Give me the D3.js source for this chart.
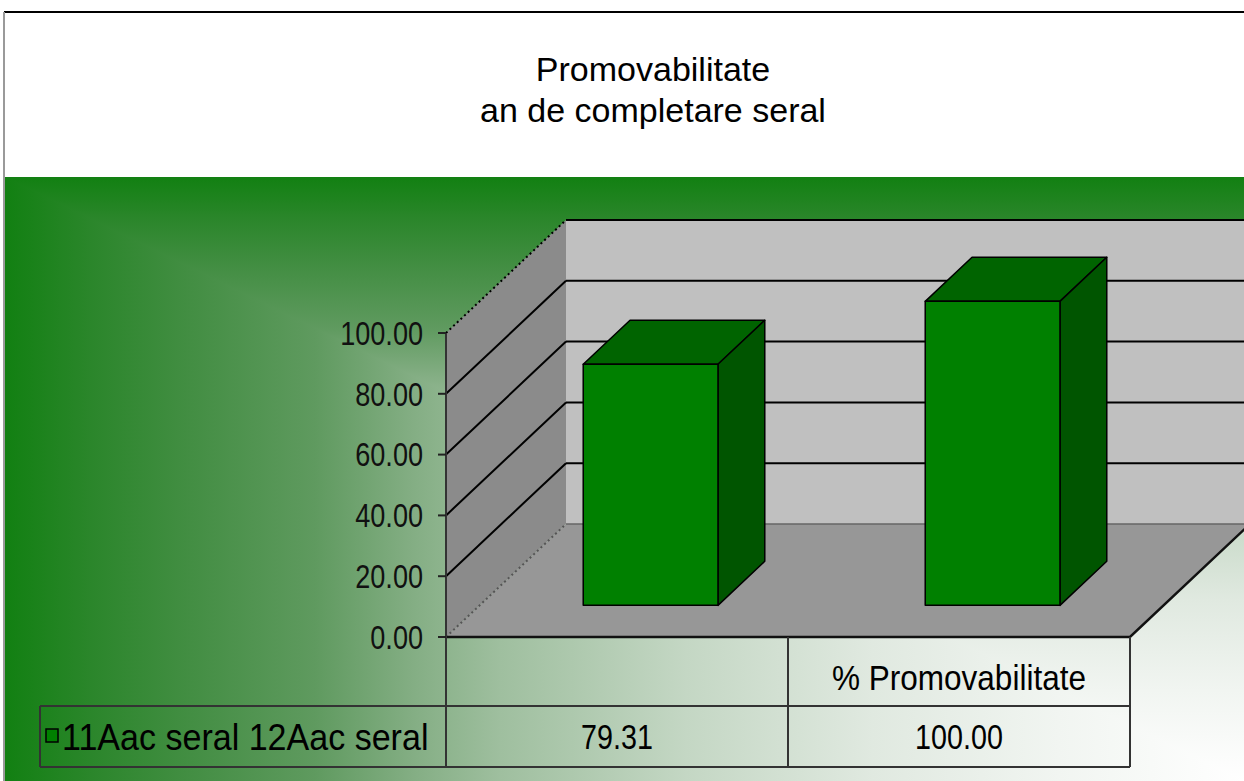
<!DOCTYPE html>
<html>
<head>
<meta charset="utf-8">
<script src="https://cdn.jsdelivr.net/npm/d3@7"></script>
<style>
  html, body { margin: 0; padding: 0; background: #fff; }
  svg { display: block; font-family: "Liberation Sans", Arial, sans-serif; }
</style>
</head>
<body>
<svg id="chart" width="1244" height="781"></svg>
<script>
'use strict';

// chart data
const titleLines = ['Promovabilitate', 'an de completare seral'];
const categories = ['', '% Promovabilitate'];
const seriesName = '11Aac seral 12Aac seral';
const values = [79.31, 100.00];
const yTicks = [0, 20, 40, 60, 80, 100];

const W = 1244, H = 781;
const svg = d3.select('#chart');

// front plane of the 3D box, and the depth offset of its back
const plotL = 446, plotR = 1130, plotB = 637, plotT = 333;
const DX = 120, DY = -113;
const bgTop = 177;
const rowMid = 706, rowEnd = 767, legendLeft = 40;

const x = d3.scaleBand().domain(categories).range([plotL, plotR]);
const y = d3.scaleLinear().domain([0, 100]).range([plotB, plotT]);
const fmt = d3.format('.2f');
const line = d3.line();

// squeeze text horizontally (the source uses a narrow face)
function condense(sel, k) {
    sel.each(function(){
        const w = this.getComputedTextLength();
        if(w > 0) d3.select(this).attr('textLength', w * k).attr('lengthAdjust', 'spacingAndGlyphs');
    });
}

// frame + title area
svg.append('rect').attr('width', W).attr('height', H).attr('fill', '#fff');

// corner gradient: white in the bottom-right, green towards top and left
const stops = [
    [0, '#ffffff'], [0.15, '#f1f5f1'], [0.3, '#e0e9e0'], [0.45, '#c4d7c4'],
    [0.6, '#9fbf9f'], [0.67, '#84ae84'], [0.75, '#5f9a5f'], [0.85, '#438e43'],
    [0.93, '#2b862b'], [1, '#128012']
];
const defs = svg.append('defs');
function gradient(id, x1, y1, x2, y2){
    const g = defs.append('linearGradient')
        .attr('id', id)
        .attr('gradientUnits', 'userSpaceOnUse')
        .attr('x1', x1).attr('y1', y1).attr('x2', x2).attr('y2', y2);
    g.selectAll('stop').data(stops).join('stop')
        .attr('offset', d => d[0])
        .attr('stop-color', d => d[1]);
}
gradient('gradH', W, 0, 5, 0);
gradient('gradV', 0, H, 0, bgTop);

svg.append('rect')
    .attr('x', 5).attr('y', bgTop).attr('width', W - 5).attr('height', H - bgTop)
    .attr('fill', 'url(#gradH)');
svg.append('path')
    .attr('d', line([[5, bgTop], [W, bgTop], [W, H]]) + 'Z')
    .attr('fill', 'url(#gradV)');

svg.append('line').attr('x1', 4).attr('x2', W).attr('y1', 12).attr('y2', 12)
    .attr('stroke', '#000').attr('stroke-width', 2);
svg.append('line').attr('x1', 4).attr('x2', 4).attr('y1', 12).attr('y2', H)
    .attr('stroke', '#9a9a9a').attr('stroke-width', 2);

// title
svg.append('g').selectAll('text').data(titleLines).join('text')
    .attr('x', 653)
    .attr('y', (d, i) => 81 + i * 41)
    .attr('text-anchor', 'middle')
    .attr('font-size', 34)
    .attr('fill', '#000')
    .text(d => d);

// walls and floor
const walls = svg.append('g');
walls.append('path')
    .attr('d', line([[plotL + DX, plotT + DY], [plotR + DX, plotT + DY], [plotR + DX, plotB + DY], [plotL + DX, plotB + DY]]) + 'Z')
    .attr('fill', '#c0c0c0');
walls.append('path')
    .attr('d', line([[plotL, plotT], [plotL + DX, plotT + DY], [plotL + DX, plotB + DY], [plotL, plotB]]) + 'Z')
    .attr('fill', '#8b8b8b');
walls.append('path')
    .attr('d', line([[plotL, plotB], [plotR, plotB], [plotR + DX, plotB + DY], [plotL + DX, plotB + DY]]) + 'Z')
    .attr('fill', '#979797');

// gridlines on back wall
walls.selectAll('line.back').data(yTicks).join('line')
    .attr('class', 'back')
    .attr('x1', plotL + DX).attr('x2', plotR + DX)
    .attr('y1', d => y(d) + DY).attr('y2', d => y(d) + DY)
    .attr('stroke', d => d === 0 ? '#666' : '#000')
    .attr('stroke-width', d => d === 0 ? 1.5 : 2);

// gridlines on side wall (edges dotted)
walls.selectAll('line.side').data(yTicks).join('line')
    .attr('class', 'side')
    .attr('x1', plotL).attr('x2', plotL + DX)
    .attr('y1', d => y(d)).attr('y2', d => y(d) + DY)
    .attr('stroke', d => d === 0 ? '#555' : '#000')
    .attr('stroke-width', 2)
    .attr('stroke-dasharray', d => (d === 0 || d === 100) ? '2,3' : null);

// bars
const bw = x.bandwidth() * 0.394;
const z0 = 0.28, z1 = 0.67;
const ddx = (z1 - z0) * DX, ddy = (z1 - z0) * DY;
const barData = values.map((v, i) => ({ cat: categories[i], v: v }));

const bars = svg.append('g').selectAll('g').data(barData).join('g')
    .attr('stroke', '#000')
    .attr('stroke-width', 1.5)
    .attr('stroke-linejoin', 'round');

bars.each(function(d){
    const g = d3.select(this);
    const xl = x(d.cat) + x.bandwidth() / 2 - bw / 2 + z0 * DX;
    const xr = xl + bw;
    const yb = plotB + z0 * DY;
    const yt = y(d.v) + z0 * DY;
    g.append('path')
        .attr('d', line([[xl, yt], [xr, yt], [xr + ddx, yt + ddy], [xl + ddx, yt + ddy]]) + 'Z')
        .attr('fill', '#006400');
    g.append('path')
        .attr('d', line([[xr, yt], [xr + ddx, yt + ddy], [xr + ddx, yb + ddy], [xr, yb]]) + 'Z')
        .attr('fill', '#005500');
    g.append('rect')
        .attr('x', xl).attr('y', yt).attr('width', bw).attr('height', yb - yt)
        .attr('fill', '#008000');
});

// floor front edges
svg.append('path')
    .attr('d', line([[plotL, plotB], [plotR, plotB], [plotR + DX, plotB + DY]]))
    .attr('fill', 'none')
    .attr('stroke', '#111')
    .attr('stroke-width', 2.5);

// value axis
const axis = svg.append('g');
axis.append('line')
    .attr('x1', plotL).attr('x2', plotL).attr('y1', plotT).attr('y2', rowEnd)
    .attr('stroke', '#333').attr('stroke-width', 2);
axis.selectAll('line.tick').data(yTicks).join('line')
    .attr('class', 'tick')
    .attr('x1', plotL - 8).attr('x2', plotL)
    .attr('y1', d => y(d)).attr('y2', d => y(d))
    .attr('stroke', '#222').attr('stroke-width', 2);
axis.selectAll('text').data(yTicks).join('text')
    .attr('x', 423)
    .attr('y', d => y(d))
    .attr('dy', '0.36em')
    .attr('text-anchor', 'end')
    .attr('font-size', 33)
    .attr('fill', '#111')
    .text(d => fmt(d))
    .call(condense, 0.82);

// data table
const table = svg.append('g').attr('stroke', '#333').attr('stroke-width', 2);
table.selectAll('line.v').data(categories.slice(1).map(c => x(c)).concat([plotR])).join('line')
    .attr('class', 'v')
    .attr('x1', d => d).attr('x2', d => d)
    .attr('y1', plotB).attr('y2', rowEnd);
table.append('line').attr('x1', legendLeft).attr('x2', legendLeft).attr('y1', rowMid).attr('y2', rowEnd);
table.selectAll('line.h').data([rowMid, rowEnd]).join('line')
    .attr('class', 'h')
    .attr('x1', legendLeft).attr('x2', plotR)
    .attr('y1', d => d).attr('y2', d => d);

svg.append('g').selectAll('text').data(categories).join('text')
    .attr('x', d => x(d) + x.bandwidth() / 2)
    .attr('y', (plotB + rowMid) / 2 + 6)
    .attr('dy', '0.36em')
    .attr('text-anchor', 'middle')
    .attr('font-size', 35)
    .attr('fill', '#000')
    .text(d => d)
    .call(condense, 0.9);

svg.append('g').selectAll('text').data(barData).join('text')
    .attr('x', d => x(d.cat) + x.bandwidth() / 2)
    .attr('y', (rowMid + rowEnd) / 2)
    .attr('dy', '0.36em')
    .attr('text-anchor', 'middle')
    .attr('font-size', 35)
    .attr('fill', '#000')
    .text(d => fmt(d.v))
    .call(condense, 0.82);

// legend key + series name
svg.append('rect')
    .attr('x', 46).attr('y', 729).attr('width', 12).attr('height', 13)
    .attr('fill', '#008000').attr('stroke', '#000').attr('stroke-width', 1.5);
svg.append('text')
    .attr('x', 62)
    .attr('y', (rowMid + rowEnd) / 2)
    .attr('dy', '0.36em')
    .attr('font-size', 37)
    .attr('fill', '#000')
    .text(seriesName)
    .call(condense, 0.92);
</script>
</body>
</html>
